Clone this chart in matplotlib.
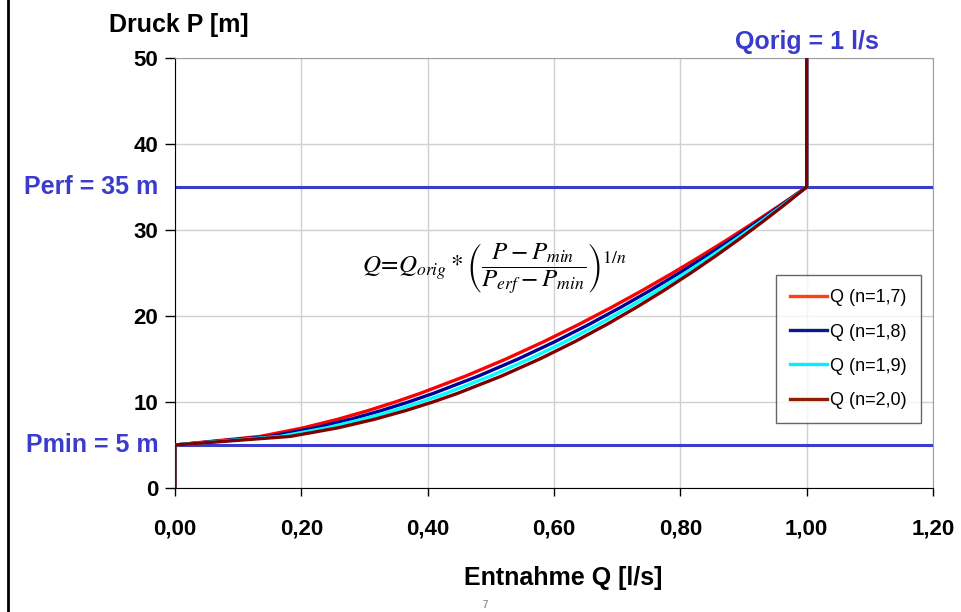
import matplotlib
matplotlib.use("Agg")
import matplotlib.pyplot as plt
from matplotlib.lines import Line2D
from matplotlib.ticker import FixedLocator

plt.rcParams['font.family'] = ['Liberation Sans', 'DejaVu Sans']

# Pressure values (P in m) along each curve
P = [0, 5, 6, 7, 8, 9, 10, 11, 13, 15, 17, 19, 21, 23, 25, 27, 29, 31, 33, 35, 50]
Q_17 = [0.0, 0.0, 0.1352, 0.2033, 0.2581, 0.3057, 0.3486, 0.3880, 0.4596, 0.5240, 0.5833,
        0.6387, 0.6909, 0.7405, 0.7878, 0.8332, 0.8770, 0.9193, 0.9602, 1.0, 1.0]
Q_18 = [0.0, 0.0, 0.1511, 0.2221, 0.2782, 0.3265, 0.3695, 0.4090, 0.4798, 0.5432, 0.6010,
        0.6548, 0.7053, 0.7529, 0.7983, 0.8417, 0.8835, 0.9236, 0.9624, 1.0, 1.0]
Q_19 = [0.0, 0.0, 0.1669, 0.2404, 0.2976, 0.3463, 0.3894, 0.4287, 0.4987, 0.5609, 0.6174,
        0.6696, 0.7183, 0.7643, 0.8078, 0.8493, 0.8892, 0.9275, 0.9643, 1.0, 1.0]
Q_20 = [0.0, 0.0, 0.1826, 0.2582, 0.3162, 0.3651, 0.4082, 0.4472, 0.5164, 0.5774, 0.6325,
        0.6831, 0.7303, 0.7746, 0.8165, 0.8563, 0.8944, 0.9309, 0.9661, 1.0, 1.0]
series_labels = ["Q (n=1,7)", "Q (n=1,8)", "Q (n=1,9)", "Q (n=2,0)"]

P_min = 5
P_erf = 35
Q_orig = 1

x_ticks = [0.0, 0.2, 0.4, 0.6, 0.8, 1.0, 1.2]
x_ticklabels = ["0,00", "0,20", "0,40", "0,60", "0,80", "1,00", "1,20"]
y_ticks = [0, 10, 20, 30, 40, 50]

line_colors = ["#ff0000", "#000099", "#00ffff", "#800000"]
legend_colors = ["#ff4010", "#0a1a8c", "#00f0ff", "#8b2000"]
ref_color = "#3b3bcc"

fig = plt.figure(figsize=(9.62, 6.12), dpi=100)
ax = fig.add_axes([175/962, (612-488)/612, (933-175)/962, (488-58)/612])

ax.set_xlim(0, 1.2)
ax.set_ylim(0, 50)

ax.xaxis.set_major_locator(FixedLocator(x_ticks))
ax.set_xticklabels(x_ticklabels)
ax.yaxis.set_major_locator(FixedLocator(y_ticks))
ax.grid(True, color="#d0d0d0", linewidth=1.0)
ax.set_axisbelow(True)

for lab in ax.get_xticklabels() + ax.get_yticklabels():
    lab.set_fontweight("bold")
    lab.set_fontsize(16)
ax.tick_params(axis="x", direction="out", length=6, width=1, pad=16)
ax.tick_params(axis="y", direction="out", length=7, width=1, pad=5)

for s in ["top", "right"]:
    ax.spines[s].set_color("#a0a0a0")
for s in ["left", "bottom"]:
    ax.spines[s].set_color("black")

# reference lines
ax.axhline(P_min, color=ref_color, linewidth=2.2, zorder=2)
ax.axhline(P_erf, color=ref_color, linewidth=2.2, zorder=2)

for q, c in zip([Q_17, Q_18, Q_19, Q_20], line_colors):
    ax.plot(q, P, color=c, linewidth=2.4, zorder=3, solid_joinstyle="round")

# labels
fig.text(179/962, 1 - 25/612, "Druck P [m]", ha="center", va="center",
         fontsize=18, fontweight="bold")
fig.text(563/962, 1 - 578/612, "Entnahme Q [l/s]", ha="center", va="center",
         fontsize=18, fontweight="bold")
ax.text(-0.022, P_erf, "Perf = 35 m", transform=ax.get_yaxis_transform(),
        ha="right", va="center", fontsize=18, fontweight="bold", color=ref_color)
ax.text(-0.022, P_min, "Pmin = 5 m", transform=ax.get_yaxis_transform(),
        ha="right", va="center", fontsize=18, fontweight="bold", color=ref_color)
ax.text(Q_orig, 1.01, "Qorig = 1 l/s", transform=ax.get_xaxis_transform(),
        ha="center", va="bottom", fontsize=18, fontweight="bold", color=ref_color)

ax.text(0.505, 25.5,
        r"$Q\!=\!Q_{orig} * \left(\dfrac{P - P_{min}}{P_{erf} - P_{min}}\right)^{1/n}$",
        ha="center", va="center", fontsize=18, math_fontfamily="stix")

handles = [Line2D([0], [0], color=c, linewidth=2.4) for c in legend_colors]
leg = ax.legend(handles, series_labels, loc="upper left",
                bbox_to_anchor=((776-175)/758, (488-275)/430),
                fontsize=13, frameon=True, fancybox=False, edgecolor="#404040",
                handlelength=2.0, handletextpad=0.2, labelspacing=0.95,
                borderpad=0.8, borderaxespad=0)
leg.get_frame().set_linewidth(1.0)

# page border and page number
fig.add_artist(Line2D([8/962, 8/962], [0, 1], transform=fig.transFigure,
                      color="black", linewidth=2))
fig.text(485/962, 1 - 605/612, "7", ha="center", va="center", fontsize=7,
         color="#999999", fontweight="bold")

fig.savefig("out.png", dpi=100)
